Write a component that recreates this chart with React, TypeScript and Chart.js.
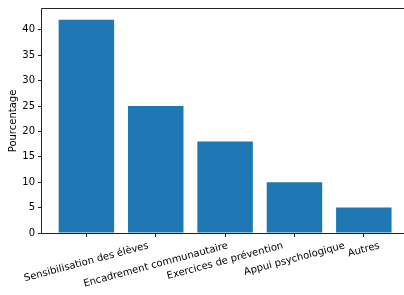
import React, { useEffect, useRef } from "react";
import { Chart, registerables } from "chart.js";

Chart.register(...registerables);

const categories = [
  "Sensibilisation des élèves",
  "Encadrement communautaire",
  "Exercices de prévention",
  "Appui psychologique",
  "Autres",
];
const values = [42, 25, 18, 10, 5];
const yTicks = [0, 5, 10, 15, 20, 25, 30, 35, 40];
const yMax = 44.1;
const xMin = -0.64;
const xMax = 4.565;

const FONT = '"DejaVu Sans", sans-serif';

const boxPlugin = {
  id: "boxAndLabels",
  afterDraw(chart: any) {
    const { ctx, chartArea, width } = chart;
    const { left, top, bottom } = chartArea;
    ctx.save();
    ctx.strokeStyle = "#222";
    ctx.lineWidth = 1;
    const l = Math.round(left) - 0.5;
    const t = Math.round(top) - 0.5;
    const b = Math.round(bottom) + 0.5;
    ctx.beginPath();
    ctx.moveTo(width, t);
    ctx.lineTo(l, t);
    ctx.lineTo(l, b);
    ctx.lineTo(width, b);
    ctx.stroke();

    const xs = chart.scales.x;
    const angle = (15 * Math.PI) / 180;
    ctx.font = `10px ${FONT}`;
    ctx.fillStyle = "#000";
    ctx.textAlign = "center";
    ctx.textBaseline = "middle";
    const h = 11.5;
    categories.forEach((label, i) => {
      const x = xs.getPixelForValue(i);
      const w = ctx.measureText(label).width;
      const H = w * Math.sin(angle) + h * Math.cos(angle);
      const cy = bottom + 7 + H / 2;
      ctx.save();
      ctx.translate(x, cy);
      ctx.rotate(-angle);
      ctx.fillText(label, 0, 0);
      ctx.restore();
    });
    ctx.restore();
  },
};

export default function App() {
  const ref = useRef<HTMLCanvasElement | null>(null);

  useEffect(() => {
    if (!ref.current) return;
    const chart = new Chart(ref.current, {
      type: "bar",
      data: {
        datasets: [
          {
            data: values.map((v, i) => ({ x: i, y: v })),
            backgroundColor: "#1f77b4",
            borderWidth: 0,
            categoryPercentage: 1,
            barPercentage: 0.8,
          },
        ],
      },
      options: {
        responsive: false,
        animation: false,
        layout: { padding: { top: 6, right: 1, left: 0, bottom: 0 } },
        plugins: { legend: { display: false }, tooltip: { enabled: false } },
        scales: {
          x: {
            type: "linear",
            min: xMin,
            max: xMax,
            offset: false,
            afterBuildTicks: (s: any) => {
              s.ticks = categories.map((_, i) => ({ value: i }));
            },
            afterFit: (s: any) => {
              s.height = 62;
            },
            ticks: { autoSkip: false, maxRotation: 0, callback: () => "" },
            grid: {
              display: true,
              offset: false,
              drawOnChartArea: false,
              drawTicks: true,
              tickLength: 4,
              color: "#222",
            },
            border: { display: false },
          },
          y: {
            type: "linear",
            min: 0,
            max: yMax,
            afterBuildTicks: (s: any) => {
              s.ticks = yTicks.map((v) => ({ value: v }));
            },
            afterFit: (s: any) => {
              s.width = 42;
            },
            ticks: {
              color: "#000",
              padding: 3,
              font: { family: FONT, size: 10 },
            },
            grid: {
              display: true,
              drawOnChartArea: false,
              drawTicks: true,
              tickLength: 4,
              color: "#222",
            },
            border: { display: false },
            title: {
              display: true,
              text: "Pourcentage",
              color: "#000",
              font: { family: FONT, size: 10 },
              padding: { top: 7, bottom: 0 },
            },
          },
        },
      },
      plugins: [boxPlugin],
    } as any);
    return () => chart.destroy();
  }, []);

  return (
    <div style={{ position: "absolute", left: 0, top: 0, width: 404, height: 295, background: "#fff" }}>
      <canvas ref={ref} width={404} height={295} style={{ width: 404, height: 295 }} />
    </div>
  );
}
